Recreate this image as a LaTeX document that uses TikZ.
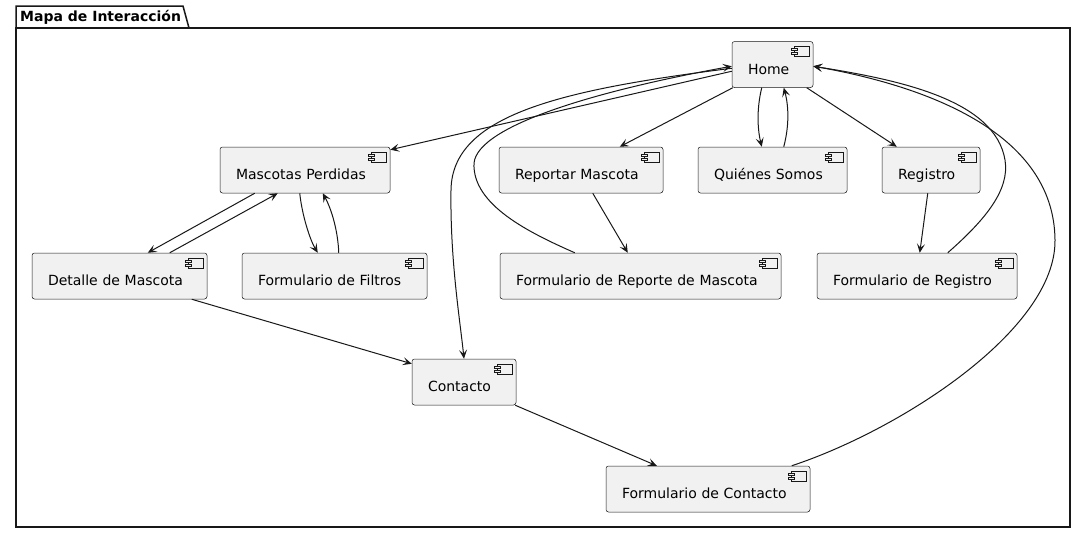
\documentclass[tikz,border=0pt]{standalone}
\usepackage{fontspec}
\setmainfont{DejaVu Sans}
\usetikzlibrary{arrows.meta,calc}
\definecolor{ln}{HTML}{181818}
\definecolor{bg}{HTML}{F1F1F1}
\newcommand\cicon[1]{%
  \draw[draw=ln,line width=0.5pt,fill=bg] ($(#1.north east)+(-19,5)$) rectangle ($(#1.north east)+(-4,15)$);
  \draw[draw=ln,line width=0.5pt,fill=bg] ($(#1.north east)+(-22,7)$) rectangle ($(#1.north east)+(-16,9)$);
  \draw[draw=ln,line width=0.5pt,fill=bg] ($(#1.north east)+(-22,11)$) rectangle ($(#1.north east)+(-16,13)$);
}
\begin{document}
\begin{tikzpicture}[x=1pt,y=-1pt,
  comp/.style={draw=ln, line width=0.5pt, fill=bg, rounded corners=2.5pt, minimum height=46pt,
    inner xsep=16pt, inner ysep=0pt, text width=#1, align=left, text height=19pt, text depth=0pt,
    font=\fontsize{14pt}{17pt}\selectfont},
  link/.style={draw=ln, line width=1pt, -{Stealth[length=9pt,width=8pt,inset=4pt]}}]
\useasboundingbox (0,0) rectangle (1086,533);
\fill[white] (0,0) rectangle (1086,533);
% package frame
\draw[line width=1.5pt, ln] (16,28) rectangle (1070,527);
\draw[line width=1.5pt, ln] (16,28) -- (16,6) -- (183,6) -- (189,28);
\node[anchor=base west, font=\bfseries\fontsize{14pt}{17pt}\selectfont, inner sep=0pt] (pkg) at (20,21) {Mapa de Interacción};
% components
\node[comp=49pt]  (home) at (772.5,64.5) {Home};
\node[comp=117pt] (qs)   at (772.5,170)  {Quiénes Somos};
\node[comp=66pt]  (reg)  at (931,170)    {Registro};
\node[comp=168pt] (freg) at (917,276)    {Formulario de Registro};
\node[comp=132pt] (rm)   at (581,170)    {Reportar Mascota};
\node[comp=249pt] (frm)  at (640.5,276)  {Formulario de Reporte de Mascota};
\node[comp=138pt] (mp)   at (305,170)    {Mascotas Perdidas};
\node[comp=143pt] (det)  at (119.5,276)  {Detalle de Mascota};
\node[comp=153pt] (fil)  at (334.5,276)  {Formulario de Filtros};
\node[comp=72pt]  (con)  at (464,382)    {Contacto};
\node[comp=172pt] (fc)   at (708,489)    {Formulario de Contacto};
\foreach \n in {home,qs,reg,freg,rm,frm,mp,det,fil,con,fc}{\cicon{\n}}
% connectors
\draw[link] ($(home.north west)+(0,30)$) -- ($(mp.north east)+(0,3)$);
\draw[link] ($(home.north west)+(0,27)$) .. controls (560,90) and (452,115) .. (451,190)
            .. controls (450,260) and (460,320) .. (con.north);
\draw[link] ($(frm.north west)+(75,0)$) .. controls (530,233) and (472,205) .. (474,163)
            .. controls (478,125) and (600,90) .. ($(home.north west)+(0,25)$);
\draw[link] ($(home.south west)+(1,0)$) -- ($(rm.north west)+(121,0)$);
\draw[link] ($(home.south west)+(30,0)$) .. controls (757,107) and (757,127) .. ($(qs.north west)+(64,0)$);
\draw[link] ($(qs.north west)+(86,0)$) .. controls (789,127) and (789,107) .. ($(home.south west)+(52,0)$);
\draw[link] ($(home.south west)+(75,0)$) -- ($(reg.north west)+(15,0)$);
\draw[link] ($(reg.south west)+(46,0)$) -- ($(freg.north west)+(103,0)$);
\draw[link] ($(freg.north west)+(131,0)$) .. controls (985,220) and (1010,190) .. (1005,160)
            .. controls (995,100) and (900,80) .. ($(home.north east)+(0,25)$);
\draw[link] ($(fc.north west)+(186,0)$) .. controls (900,430) and (1056,330) .. (1055,240)
            .. controls (1054,130) and (920,85) .. ($(home.north east)+(0,25)$);
\draw[link] ($(rm.south west)+(94,0)$) -- ($(frm.north west)+(128,0)$);
\draw[link] ($(mp.south west)+(35,0)$) -- ($(det.north west)+(116,0)$);
\draw[link] ($(det.north west)+(138,0)$) -- ($(mp.south west)+(58,0)$);
\draw[link] ($(mp.south west)+(80,0)$) .. controls (302,215) and (310,240) .. ($(fil.north west)+(76,0)$);
\draw[link] ($(fil.north west)+(97,0)$) .. controls (338,232) and (332,210) .. ($(mp.south west)+(103,0)$);
\draw[link] ($(det.south west)+(160,0)$) -- ($(con.north west)+(0,5)$);
\draw[link] ($(con.south east)+(-1,0)$) -- ($(fc.north west)+(51,0)$);
\end{tikzpicture}
\end{document}
